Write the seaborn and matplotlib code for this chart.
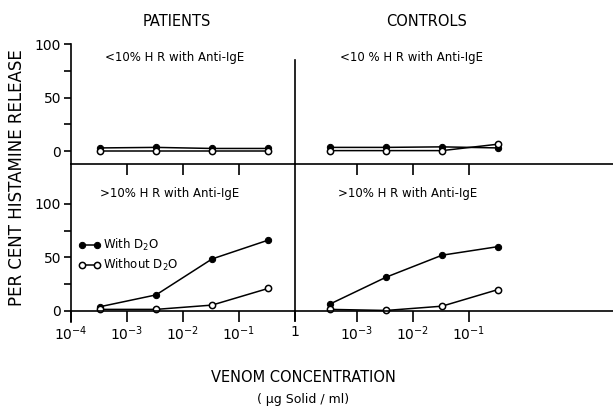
import numpy as np
import pandas as pd
import matplotlib
matplotlib.use("Agg")
import matplotlib.pyplot as plt
import matplotlib.ticker as mticker
import seaborn as sns

# venom concentration (ug solid / ml)
conc = [3.3e-4, 3.3e-3, 3.3e-2, 3.3e-1]

# per cent histamine release
pat_low_with = [3, 3.5, 2.5, 2.5]
pat_low_without = [0, 0, 0, 0]
ctl_low_with = [3.5, 3.5, 4, 3]
ctl_low_without = [0.5, 0.5, 0.5, 6.5]
pat_high_with = [4, 15, 48.5, 66]
pat_high_without = [1.5, 1.5, 5.5, 21]
ctl_high_with = [6.5, 31.5, 52, 60]
ctl_high_without = [1.5, 0.5, 4.5, 20]

W, H = 613, 409
sns.set_style("ticks")
plt.rcParams['font.family'] = ['DejaVu Sans']
plt.rcParams['text.color'] = 'k'
plt.rcParams['axes.labelcolor'] = 'k'
plt.rcParams['xtick.color'] = 'k'
plt.rcParams['ytick.color'] = 'k'
plt.rcParams['axes.edgecolor'] = 'k'
fig = plt.figure(figsize=(W / 100, H / 100), dpi=100)


def box(x0, y0, x1, y1):
    # pixel box -> figure fraction
    return [x0 / W, 1 - y1 / H, (x1 - x0) / W, (y1 - y0) / H]


ax_bl = fig.add_axes(box(71, 164, 295, 311))
ax_br = fig.add_axes(box(295, 164, 613, 311))
ax_tl = fig.add_axes(box(71, 44, 295, 164))
ax_tr = fig.add_axes(box(295, 44, 613, 164))


def draw(ax, with_vals, without_vals):
    df = pd.DataFrame({'conc': conc, 'with': with_vals, 'without': without_vals})
    sns.lineplot(data=df, x='conc', y='with', ax=ax, color='k', lw=1.1,
                 marker='o', markersize=4.5, markerfacecolor='k',
                 markeredgecolor='k', clip_on=False, label='With D$_2$O')
    sns.lineplot(data=df, x='conc', y='without', ax=ax, color='k', lw=1.1,
                 marker='o', markersize=4.5, markerfacecolor='white',
                 markeredgecolor='k', markeredgewidth=1.1, clip_on=False,
                 label='Without D$_2$O')
    ax.set_xscale('log')
    ax.set_xlabel('')
    ax.set_ylabel('')
    ax.patch.set_alpha(0)
    ax.xaxis.set_minor_locator(mticker.NullLocator())
    for s in ['top', 'right']:
        ax.spines[s].set_visible(False)
    for s in ['left', 'bottom']:
        ax.spines[s].set_linewidth(1.2)
    ax.tick_params(width=1.2, length=7, labelsize=10, colors='k')
    if ax.get_legend() is not None:
        ax.get_legend().remove()


draw(ax_tl, pat_low_with, pat_low_without)
draw(ax_tr, ctl_low_with, ctl_low_without)
draw(ax_bl, pat_high_with, pat_high_without)
draw(ax_br, ctl_high_with, ctl_high_without)

for ax in [ax_tl, ax_bl]:
    ax.set_xlim(1e-4, 1)
for ax in [ax_tr, ax_br]:
    ax.set_xlim(10 ** -4.107, 10 ** 1.57)

for ax in [ax_tl, ax_tr]:
    ax.set_ylim(-12, 100)
    ax.set_xticks([1e-3, 1e-2, 1e-1])
    ax.set_xticklabels([])
    ax.tick_params(axis='x', length=8)
for ax in [ax_bl, ax_br]:
    ax.set_ylim(0, 137)

for ax in [ax_tl, ax_bl]:
    ax.set_yticks([0, 50, 100])
    ax.set_yticklabels(['0', '50', '100'])
    ax.set_yticks([25, 75], minor=True)
    ax.tick_params(axis='y', which='major', length=5, pad=2)
    ax.tick_params(axis='y', which='minor', length=5, width=1.2)
ax_tl.spines['left'].set_bounds(-12, 100)
ax_bl.spines['left'].set_bounds(-10, 137)

for ax in [ax_tr, ax_br]:
    ax.set_yticks([])
ax_tr.spines['left'].set_bounds(-12, 85)
ax_br.spines['left'].set_bounds(-8, 137)

ax_bl.set_xticks([1e-4, 1e-3, 1e-2, 1e-1, 1])
ax_bl.set_xticklabels(['$10^{-4}$', '$10^{-3}$', '$10^{-2}$', '$10^{-1}$', '1'])
ax_br.set_xticks([1e-3, 1e-2, 1e-1])
ax_br.set_xticklabels(['$10^{-3}$', '$10^{-2}$', '$10^{-1}$'])
for ax in [ax_bl, ax_br]:
    ax.tick_params(axis='x', length=8, pad=2)

# panel captions
ax_tl.text(0.15, 0.89, '<10% H R with Anti-IgE', transform=ax_tl.transAxes,
           fontsize=8.5, ha='left', va='center')
ax_tr.text(0.14, 0.89, '<10 % H R with Anti-IgE', transform=ax_tr.transAxes,
           fontsize=8.5, ha='left', va='center')
ax_bl.text(0.13, 0.80, '>10% H R with Anti-IgE', transform=ax_bl.transAxes,
           fontsize=8.5, ha='left', va='center')
ax_br.text(0.135, 0.80, '>10% H R with Anti-IgE', transform=ax_br.transAxes,
           fontsize=8.5, ha='left', va='center')

h, l = ax_bl.get_legend_handles_labels()
ax_bl.legend(h, l, loc='upper left', bbox_to_anchor=(0.0, 0.55), frameon=False,
             fontsize=8.5, handlelength=1.9, handletextpad=0.2, labelspacing=0.3,
             borderaxespad=0.2, numpoints=2)

fig.text(177 / W, 1 - 22 / H, 'PATIENTS', ha='center', va='center', fontsize=10.5)
fig.text(427 / W, 1 - 22 / H, 'CONTROLS', ha='center', va='center', fontsize=10.5)
fig.text(17 / W, 1 - 178 / H, 'PER CENT HISTAMINE RELEASE', rotation=90,
         ha='center', va='center', fontsize=12)
fig.text(303 / W, 1 - 377 / H, 'VENOM CONCENTRATION', ha='center', va='center',
         fontsize=10.5)
fig.text(303 / W, 1 - 400 / H, '( µg Solid / ml)', ha='center', va='center',
         fontsize=9)

fig.savefig('out.png', dpi=100)
